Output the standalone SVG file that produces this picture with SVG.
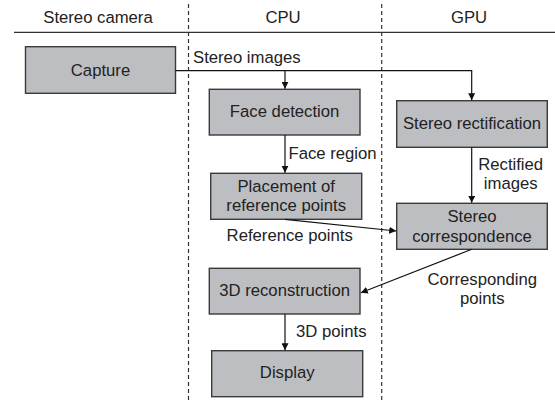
<svg xmlns="http://www.w3.org/2000/svg" width="555" height="403" viewBox="0 0 555 403">
<defs>
<style>
text{font-family:"Liberation Sans",Arial,sans-serif;font-size:16.7px;fill:#222;}
.c{text-anchor:middle;}
.box{fill:#bdbec1;stroke:#3a3a3a;stroke-width:1.4;}
.ln{fill:none;stroke:#111;stroke-width:1.2;}
.lane{stroke:#333;stroke-width:1.2;stroke-dasharray:4 3;}
</style>
<marker id="ah" viewBox="0 0 10 10" refX="10" refY="5" markerWidth="7" markerHeight="7" markerUnits="userSpaceOnUse" orient="auto">
<path d="M0,0 L10,5 L0,10 z" fill="#111"/>
</marker>
</defs>
<rect width="555" height="403" fill="#fff"/>
<g id="lanes">
<line x1="14" y1="32.3" x2="555" y2="32.3" stroke="#333" stroke-width="1.3"/>
<line class="lane" x1="188.5" y1="4" x2="188.5" y2="403"/>
<line class="lane" x1="381.7" y1="4" x2="381.7" y2="403"/>
<text class="c" x="98" y="23">Stereo camera</text>
<text class="c" x="283" y="23">CPU</text>
<text class="c" x="469" y="23">GPU</text>
</g>
<g id="capture"><rect class="box" x="25.5" y="46.7" width="150" height="46.6"/><text class="c" x="100.5" y="76">Capture</text></g>
<g id="face-detection"><rect class="box" x="209.3" y="89.3" width="150.7" height="45.7"/><text class="c" x="284.6" y="117">Face detection</text></g>
<g id="stereo-rectification"><rect class="box" x="396.7" y="100.7" width="150.6" height="46.6"/><text class="c" x="472" y="128.5">Stereo rectification</text></g>
<g id="placement"><rect class="box" x="210.7" y="173.3" width="151" height="46"/><text class="c" x="286.2" y="191.7">Placement of</text><text class="c" x="286.2" y="210.7">reference points</text></g>
<g id="stereo-correspondence"><rect class="box" x="396.7" y="203.3" width="150.6" height="46"/><text class="c" x="472" y="221.7">Stereo</text><text class="c" x="472" y="241.7">correspondence</text></g>
<g id="reconstruction"><rect class="box" x="209.3" y="268.3" width="150.7" height="45.7"/><text class="c" x="284.6" y="295.7">3D reconstruction</text></g>
<g id="display"><rect class="box" x="211.7" y="350.7" width="151" height="46"/><text class="c" x="287.2" y="378.3">Display</text></g>
<g id="connectors">
<path class="ln" d="M175.5,70.7 H471.7 V100.2" marker-end="url(#ah)"/>
<path class="ln" d="M285,70.7 V88.8" marker-end="url(#ah)"/>
<path class="ln" d="M285,135 V172.8" marker-end="url(#ah)"/>
<path class="ln" d="M471.7,147.3 V202.8" marker-end="url(#ah)"/>
<path class="ln" d="M285,219.3 L396.2,231" marker-end="url(#ah)"/>
<path class="ln" d="M471.7,249.3 L360.8,292.8" marker-end="url(#ah)"/>
<path class="ln" d="M285,314 V350.2" marker-end="url(#ah)"/>
<text x="193" y="63">Stereo images</text>
<text x="288.5" y="159">Face region</text>
<text class="c" x="510.7" y="170">Rectified</text>
<text class="c" x="510.7" y="189">images</text>
<text class="c" x="289.7" y="241">Reference points</text>
<text class="c" x="482.3" y="285">Corresponding</text>
<text class="c" x="482.3" y="304">points</text>
<text x="296" y="337">3D points</text>
</g>
</svg>
